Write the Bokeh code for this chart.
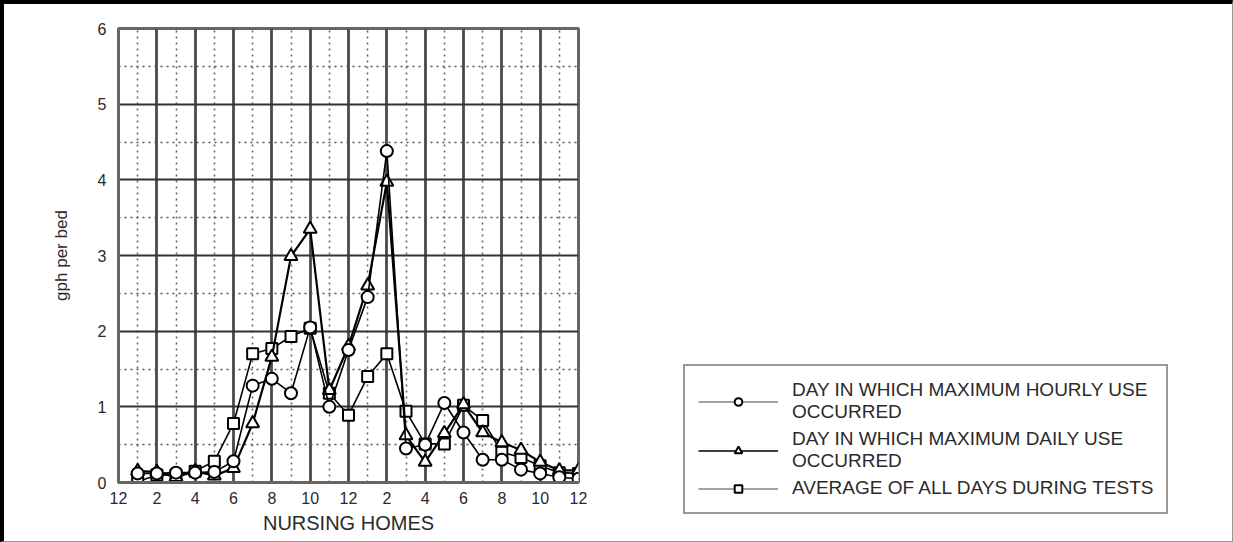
from bokeh.plotting import figure
from bokeh.layouts import row
from bokeh.models import FixedTicker, Legend, LegendItem
from bokeh.embed import file_html
from bokeh.resources import INLINE

hours = list(range(1, 25))
tick_hours = list(range(0, 25, 2))
tick_labels = ["12", "2", "4", "6", "8", "10", "12", "2", "4", "6", "8", "10", "12"]

max_hourly = [0.12, 0.12, 0.13, 0.13, 0.14, 0.28, 1.28, 1.37, 1.18, 2.05, 1.00, 1.75,
              2.45, 4.38, 0.45, 0.50, 1.05, 0.66, 0.30, 0.30, 0.17, 0.12, 0.07, 0.05]
max_daily = [0.15, 0.14, 0.07, 0.15, 0.09, 0.19, 0.78, 1.66, 2.99, 3.35, 1.22, 1.80,
             2.60, 3.97, 0.62, 0.27, 0.65, 1.03, 0.66, 0.53, 0.43, 0.27, 0.16, 0.16]
average = [0.01, 0.10, 0.10, 0.15, 0.28, 0.78, 1.70, 1.77, 1.93, 2.04, 1.18, 0.89,
           1.40, 1.70, 0.94, 0.51, 0.51, 1.02, 0.82, 0.40, 0.33, 0.22, 0.13, 0.12]

labels = ["DAY IN WHICH MAXIMUM HOURLY USE\nOCCURRED",
          "DAY IN WHICH MAXIMUM DAILY USE\nOCCURRED",
          "AVERAGE OF ALL DAYS DURING TESTS"]

FONT = "Liberation Sans"
TXT = "#2a2a2a"

p = figure(width=672, height=542, x_range=(0, 24), y_range=(0, 6),
           output_backend="svg", toolbar_location=None,
           min_border_left=114, min_border_right=98,
           min_border_top=24, min_border_bottom=64)
p.frame_align = False
p.styles = {"border-left": "4px solid black", "border-top": "4px solid black",
            "border-bottom": "1px solid #999999"}

xt = FixedTicker(ticks=tick_hours, minor_ticks=list(range(1, 24, 2)))
yt = FixedTicker(ticks=list(range(0, 7)), minor_ticks=[i + 0.5 for i in range(6)])
p.xaxis.ticker = xt
p.yaxis.ticker = yt
p.xgrid.ticker = xt
p.ygrid.ticker = yt
p.xaxis.major_label_overrides = {h: l for h, l in zip(tick_hours, tick_labels)}

for ax in (p.xaxis, p.yaxis):
    ax.major_tick_line_color = None
    ax.minor_tick_line_color = None
    ax.major_tick_out = 0
    ax.major_tick_in = 0
    ax.axis_line_color = "#666666"
    ax.axis_line_width = 3
    ax.major_label_text_font = FONT
    ax.major_label_text_font_size = "16px"
    ax.major_label_text_color = TXT
    ax.axis_label_text_font = FONT
    ax.axis_label_text_font_style = "normal"
    ax.axis_label_text_color = TXT

p.xaxis.axis_label = "NURSING HOMES"
p.xaxis.axis_label_text_font_size = "20px"
p.xaxis.major_label_standoff = 5
p.xaxis.axis_label_standoff = 5
p.yaxis.axis_label = "gph per bed"
p.yaxis.axis_label_text_font_size = "17px"
p.yaxis.major_label_standoff = 8
p.yaxis.axis_label_standoff = 24

p.xgrid.grid_line_color = "#4a4a4a"
p.xgrid.grid_line_width = 2.8
p.xgrid.minor_grid_line_color = "#666666"
p.xgrid.minor_grid_line_dash = "dotted"
p.xgrid.minor_grid_line_width = 1.6
p.ygrid.grid_line_color = "#333333"
p.ygrid.grid_line_width = 2
p.ygrid.minor_grid_line_color = "#555555"
p.ygrid.minor_grid_line_dash = "dotted"
p.ygrid.minor_grid_line_width = 1.6

p.outline_line_color = "#666666"
p.outline_line_width = 3

def add_series(fig, xs, ys, marker, size, lw, lc="black"):
    ln = fig.line(xs, ys, line_color=lc, line_width=lw)
    mk = fig.scatter(xs, ys, marker=marker, size=size, fill_color="white",
                     line_color="black", line_width=2)
    return ln, mk

add_series(p, hours, average, "square", 11, 1.6)
add_series(p, hours, max_daily, "triangle", 13, 2.2)
add_series(p, hours, max_hourly, "circle", 12, 1.6)

# legend panel: the series are re-added to a range that keeps them off-view,
# so only the legend is visible here
q = figure(width=561, height=542, x_range=(-3, -2), y_range=(-3, -2),
           output_backend="svg", toolbar_location=None,
           x_axis_type=None, y_axis_type=None,
           min_border_left=11, min_border_right=0, min_border_top=360, min_border_bottom=0)
q.frame_align = False
q.styles = {"border-top": "4px solid black", "border-right": "1px solid #999999",
            "border-bottom": "1px solid #999999"}
q.grid.visible = False
q.outline_line_color = None
lq1, mq1 = add_series(q, hours, max_hourly, "circle", 11, 1, "#444444")
lq2, mq2 = add_series(q, hours, max_daily, "triangle", 12, 1.6)
lq3, mq3 = add_series(q, hours, average, "square", 10, 1, "#444444")

legend = Legend(items=[LegendItem(label=labels[0], renderers=[lq1, mq1]),
                       LegendItem(label=labels[1], renderers=[lq2, mq2]),
                       LegendItem(label=labels[2], renderers=[lq3, mq3])],
                location="top_left")
legend.margin = 0
legend.glyph_width = 80
legend.glyph_height = 19
legend.label_standoff = 14
legend.label_text_font = FONT
legend.label_text_font_size = "19px"
legend.label_text_color = TXT
legend.padding = 13
legend.spacing = 5
legend.border_line_color = "#333333"
legend.border_line_width = 2
legend.background_fill_alpha = 1
q.add_layout(legend)

layout = row(p, q)
open("out.html", "w").write(file_html(layout, INLINE))
